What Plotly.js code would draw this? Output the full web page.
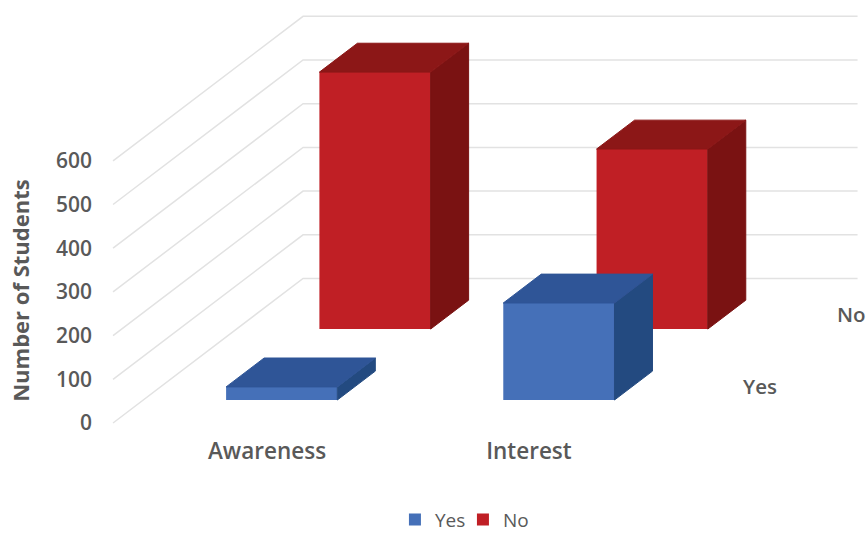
<!DOCTYPE html>
<html>
<head>
<meta charset="utf-8">
<script src="https://cdn.plot.ly/plotly-3.0.1.min.js"></script>
<style>html,body{margin:0;padding:0;background:#fff}#c{width:868px;height:533px}</style>
</head>
<body>
<div id="c"></div>
<script>
const categories = ["Awareness", "Interest"];
const yesValues = [30, 222];
const noValues = [588, 412];
const yTicks = [0, 100, 200, 300, 400, 500, 600];

const catPos = [0, 0.997];
const labelPos = [0.056, 0.998];
const depthX = 0.6835, depthY = 330.7;   // oblique projection of the depth axis
const barWidth = 0.4, barDepth = 0.2;
const yesDepth = 0.159, noDepth = 0.65;
const font = "'Open Sans', 'Noto Sans', sans-serif";
const textColor = "#595959";

const proj = (cat, depth, value) => [cat + depth * depthX, value + depth * depthY];

function poly(points, color) {
  const p = points.concat([points[0]]);
  return {
    type: "scatter", mode: "lines", x: p.map(q => q[0]), y: p.map(q => q[1]),
    fill: "toself", fillcolor: color, line: {width: 1, color: color},
    showlegend: false, hoverinfo: "skip"
  };
}
function faces(values, d, topColor, sideColor) {
  const out = [];
  values.forEach((v, i) => {
    const c0 = catPos[i] - barWidth / 2, c1 = catPos[i] + barWidth / 2, d1 = d + barDepth;
    out.push(poly([proj(c1, d, 0), proj(c1, d1, 0), proj(c1, d1, v), proj(c1, d, v)], sideColor));
    out.push(poly([proj(c0, d, v), proj(c1, d, v), proj(c1, d1, v), proj(c0, d1, v)], topColor));
  });
  return out;
}
function front(name, values, d, color) {
  return {
    type: "bar", name: name,
    x: catPos.map(c => proj(c, d, 0)[0]), y: values, base: values.map(() => proj(0, d, 0)[1]),
    width: barWidth, marker: {color: color, line: {width: 0}}, hoverinfo: "skip"
  };
}

const traces = [
  front("No", noValues, noDepth, "#C01F25"),
  front("Yes", yesValues, yesDepth, "#4570B8"),
  ...faces(noValues, noDepth, "#8C1717", "#7A1212"),
  ...faces(yesValues, yesDepth, "#2F5597", "#234A80")
];

const wallLeft = -0.498, wallRight = 2.18;
const shapes = yTicks.map(t => {
  const a = proj(wallLeft, 0, t), b = proj(wallLeft, 1, t), c = [wallRight, b[1]];
  return {
    type: "path", xref: "x", yref: "y", layer: "below",
    path: `M ${a[0]} ${a[1]} L ${b[0]} ${b[1]} L ${c[0]} ${c[1]}`,
    line: {color: "#E2E2E2", width: 1.5}
  };
});

const seriesLabel = (text, px, py) => ({
  text: text, x: px, y: py, xref: "x", yref: "y", showarrow: false,
  xanchor: "center", yanchor: "middle",
  font: {family: font, size: 20.5, color: textColor, weight: 600}
});

const layout = {
  width: 868, height: 533,
  margin: {l: 93, r: 0, t: 0, b: 98, pad: 0},
  paper_bgcolor: "#fff", plot_bgcolor: "rgba(0,0,0,0)",
  barmode: "overlay", shapes: shapes,
  font: {family: font, color: textColor},
  xaxis: {
    type: "linear", range: [-0.5701, 2.2176], tickmode: "array",
    tickvals: labelPos, ticktext: categories, showgrid: false, zeroline: false, showline: false,
    ticks: "", tickfont: {family: font, size: 22.5, color: textColor, weight: 600}, fixedrange: true
  },
  yaxis: {
    range: [-27.46, 968], tickmode: "array", tickvals: yTicks, ticktext: yTicks.map(String),
    showgrid: false, zeroline: false, showline: false, ticks: "",
    tickfont: {family: font, size: 21, color: textColor, weight: 600}, fixedrange: true
  },
  legend: {
    orientation: "h", x: 0.455, xanchor: "left", y: 0.025, yanchor: "middle",
    xref: "container", yref: "container", traceorder: "reversed",
    entrywidth: 23, entrywidthmode: "pixels",
    font: {family: font, size: 19, color: textColor}, itemclick: false, itemdoubleclick: false
  },
  annotations: [
    seriesLabel("Yes", 1.829, 85),
    seriesLabel("No", 2.16, 249.4),
    {
      text: "Number of Students", textangle: -90, showarrow: false,
      xref: "paper", yref: "y", x: -0.0945, y: 302, xanchor: "center", yanchor: "middle",
      font: {family: font, size: 22, color: textColor, weight: 700}
    }
  ]
};

Plotly.newPlot("c", traces, layout, {displayModeBar: false, staticPlot: true});
</script>
</body>
</html>
